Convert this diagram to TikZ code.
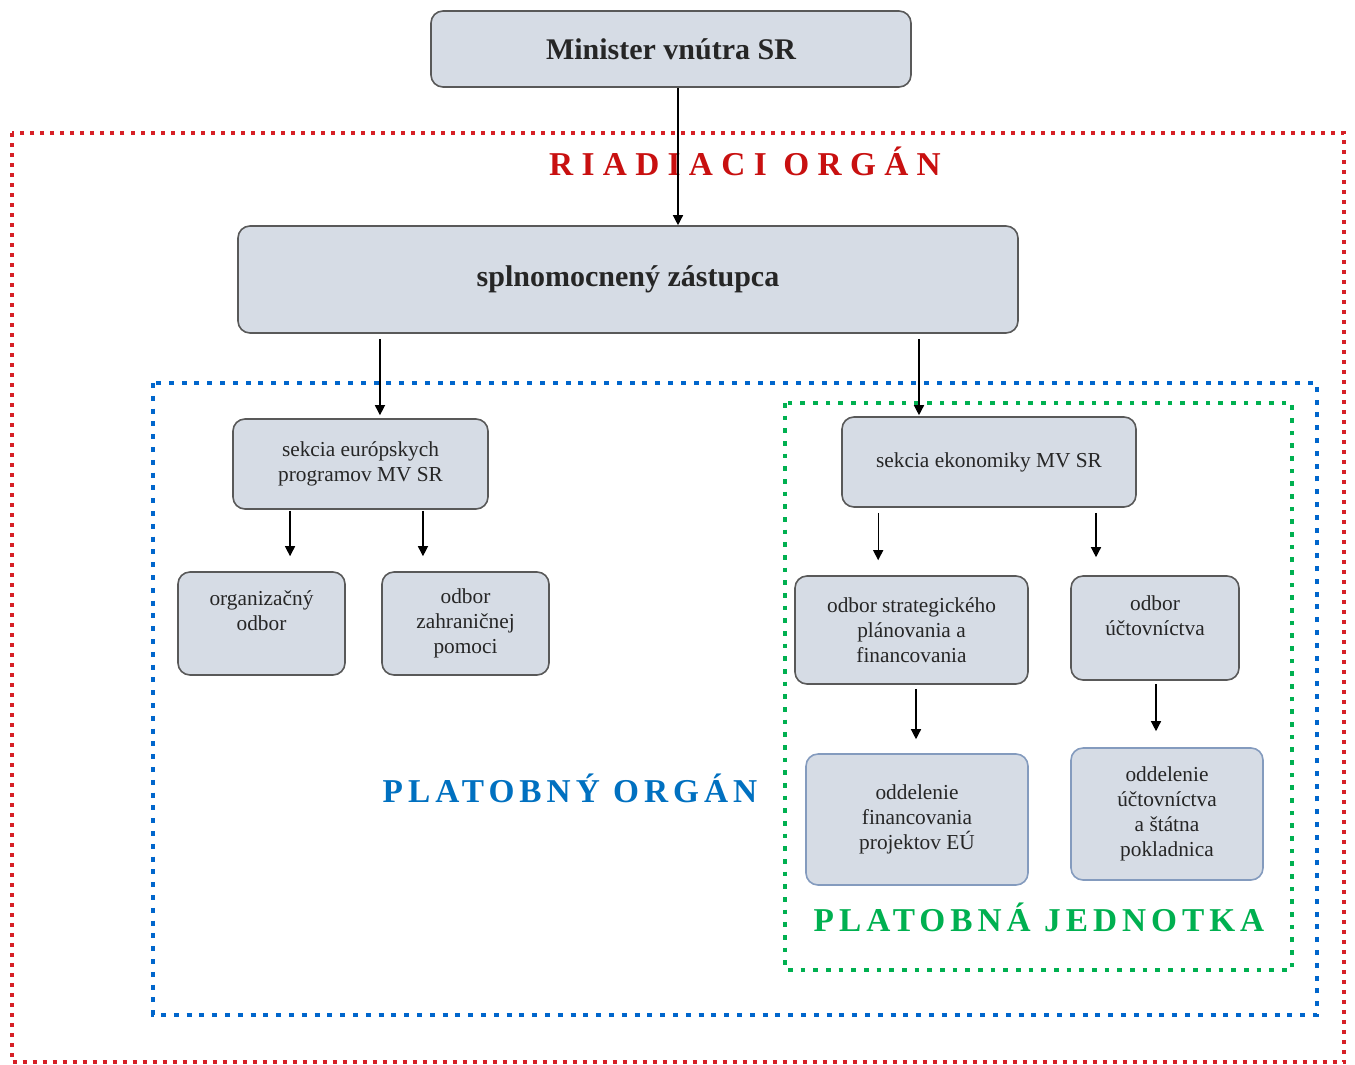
\documentclass[tikz,border=0pt]{standalone}
\usepackage{fontspec}
\setmainfont{Liberation Serif}
\newfontfamily\redlabelfont[LetterSpace=25]{Liberation Serif}
\newfontfamily\labelfont[LetterSpace=15]{Liberation Serif}
\usetikzlibrary{arrows.meta}

\tikzset{every picture/.style={line width=0.75pt}}

\begin{document}
\begin{tikzpicture}[x=0.75pt,y=0.75pt,yscale=-1,xscale=1,
    box/.style={draw={rgb, 255:red, 89; green, 89; blue, 89 }, line width=1.2pt, rounded corners=9pt,
        fill={rgb, 255:red, 214; green, 220; blue, 229 }, text={rgb, 255:red, 38; green, 38; blue, 38 },
        inner sep=0pt, align=center, font=\fontsize{16}{18.75}\selectfont},
    bigbox/.style={box, font=\bfseries\fontsize{22.5}{26}\selectfont},
    lowbox/.style={box, draw={rgb, 255:red, 132; green, 155; blue, 190 }},
    arr/.style={-{Triangle[width=7.5pt,length=7.5pt]}, line width=1pt},
    frame/.style={line width=3.5pt, dash pattern=on 3.5pt off 6pt}]
    \useasboundingbox (0,0) rectangle (1355,1064);

    %Dotted frames
    \draw [frame, color={rgb, 255:red, 214; green, 32; blue, 38 }, line width=3pt, dash pattern=on 3pt off 4.5pt] (11.5,133) rectangle (1344,1062);
    \draw [frame, color={rgb, 255:red, 0; green, 102; blue, 204 }, dash pattern=on 3.75pt off 5.85pt] (153,383) rectangle (1317,1015);
    \draw [frame, color={rgb, 255:red, 0; green, 176; blue, 80 }] (785,403) rectangle (1292,970);

    % Text Node
    \node [anchor=base, font=\redlabelfont\bfseries\fontsize{25}{30}\selectfont, text={rgb, 255:red, 200; green, 16; blue, 16 }] (riadiaci) at (745,175) {RIADIACI ORGÁN};
    % Text Node
    \node [anchor=base, font=\labelfont\bfseries\fontsize{25}{30}\selectfont, text={rgb, 255:red, 0; green, 112; blue, 192 }] (platobny) at (570,802) {PLATOBNÝ ORGÁN};
    % Text Node
    \node [anchor=base, font=\labelfont\bfseries\fontsize{25}{30}\selectfont, text={rgb, 255:red, 0; green, 176; blue, 80 }] (jednotka) at (1039,931) {PLATOBNÁ JEDNOTKA};

    %Boxes
    \node [bigbox, minimum width=360pt, minimum height=57pt] (min) at (671,49) {Minister vnútra SR};
    \node [bigbox, minimum width=585pt, minimum height=80.25pt] (zast) at (628,279.5) {splnomocnený zástupca};
    \node [box, minimum width=191.25pt, minimum height=67.5pt] (eur) at (360.5,464) {sekcia európskych\\programov MV SR};
    \node [box, minimum width=125.25pt, minimum height=77.25pt] (org) at (261.5,623.5) {organizačný\\odbor\\\mbox{}};
    \node [box, minimum width=125.25pt, minimum height=77.25pt] (zahr) at (465.5,623.5) {odbor\\zahraničnej\\pomoci};
    \node [box, minimum width=220.5pt, minimum height=67.5pt] (ekon) at (989,462) {sekcia ekonomiky MV SR};
    \node [box, minimum width=174.75pt, minimum height=81pt] (strat) at (911.5,630) {odbor strategického\\plánovania a\\financovania};
    \node [box, minimum width=126pt, minimum height=78pt] (uct) at (1155,628) {odbor\\účtovníctva\\\mbox{}};
    \node [lowbox, minimum width=166.5pt, minimum height=98.25pt] (fin) at (917,819.5) {oddelenie\\financovania\\projektov EÚ};
    \node [lowbox, minimum width=144pt, minimum height=99pt] (pokl) at (1167,814) {oddelenie\\účtovníctva\\a štátna\\pokladnica};

    %Arrows
    \draw [arr] ([xshift=5.25pt]min.south) -- ([xshift=5.25pt]min.south |- zast.north);
    \draw [arr, shorten <=3.75pt, shorten >=2.25pt] ([xshift=14.6pt]eur.north |- zast.south) -- ([xshift=14.6pt]eur.north);
    \draw [arr, shorten <=3.75pt, shorten >=0.75pt] ([xshift=-52.5pt]ekon.north |- zast.south) -- ([xshift=-52.5pt]ekon.north);
    \draw [arr, shorten <=0.75pt, shorten >=11.25pt] ([xshift=21.4pt]org.north |- eur.south) -- ([xshift=21.4pt]org.north);
    \draw [arr, shorten <=0.75pt, shorten >=11.25pt] ([xshift=-31.9pt]zahr.north |- eur.south) -- ([xshift=-31.9pt]zahr.north);
    \draw [arr, shorten <=3.75pt, shorten >=11.25pt] ([xshift=-25pt]strat.north |- ekon.south) -- ([xshift=-25pt]strat.north);
    \draw [arr, shorten <=3.75pt, shorten >=13.5pt] ([xshift=-44.25pt]uct.north |- ekon.south) -- ([xshift=-44.25pt]uct.north);
    \draw [arr, shorten <=3pt, shorten >=10.5pt] ([xshift=-0.75pt]fin.north |- strat.south) -- ([xshift=-0.75pt]fin.north);
    \draw [arr, shorten <=2.25pt, shorten >=12pt] ([xshift=-8.25pt]pokl.north |- uct.south) -- ([xshift=-8.25pt]pokl.north);

\end{tikzpicture}
\end{document}
